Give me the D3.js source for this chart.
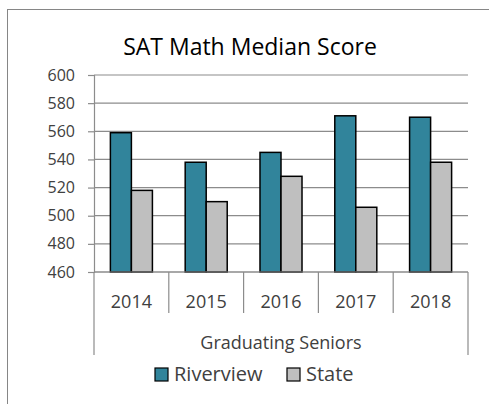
<!DOCTYPE html>
<html lang="en-US">
<head>
    <meta charset="utf-8">
    <title>SAT Math Median Score</title>
    <script src="https://d3js.org/d3.v7.min.js"></script>
    <style>
        html,
        body {
            margin: 0;
            padding: 0;
            background: #fff;
        }
        /* chart text */
        text {
            font-family: "Open Sans", "Noto Sans", sans-serif;
            fill: #404040;
        }
    </style>
</head>
<body>
    <div id="chart"></div>
    <script>
        // data
        var years = ["2014", "2015", "2016", "2017", "2018"];
        var seriesNames = ["Riverview", "State"];
        var riverview = [559, 538, 545, 571, 570];
        var state = [518, 510, 528, 506, 538];
        var yTicks = [460, 480, 500, 520, 540, 560, 580, 600];

        var colors = ["#31849b", "#bfbfbf"];
        var values = [riverview, state];

        var width = 489,
            height = 404;

        var svg = d3.select("#chart").append("svg")
            .attr("width", width)
            .attr("height", height);

        // outer chart frame (runs off the right and bottom edges)
        svg.append("rect")
            .attr("x", 7.5)
            .attr("y", 9.5)
            .attr("width", 520)
            .attr("height", 440)
            .attr("fill", "none")
            .attr("stroke", "#868686")
            .attr("stroke-width", 1);

        // plot area (don't use "top" as a global, it's window.top)
        var plot = { left: 94, right: 468, top: 75, bottom: 272 };

        var x = d3.scaleBand()
            .domain(years)
            .range([plot.left, plot.right])
            .paddingInner(0)
            .paddingOuter(0);

        var y = d3.scaleLinear()
            .domain([460, 600])
            .range([plot.bottom, plot.top]);

        // gridlines
        svg.append("g")
            .selectAll("line")
            .data(yTicks)
            .enter().append("line")
            .attr("x1", plot.left)
            .attr("x2", plot.right)
            .attr("y1", function(d) { return y(d); })
            .attr("y2", function(d) { return y(d); })
            .attr("stroke", "#8c8c8c")
            .attr("stroke-width", 1.2);

        // y axis
        var yAxis = svg.append("g")
            .attr("transform", "translate(" + plot.left + ",0)")
            .call(d3.axisLeft(y).tickValues(yTicks).tickSize(6).tickPadding(13));
        yAxis.select(".domain").attr("stroke", "#8c8c8c").attr("stroke-width", 1.2);
        yAxis.selectAll(".tick line").attr("stroke", "#8c8c8c").attr("stroke-width", 1.2);
        yAxis.selectAll("text")
            .attr("font-family", null)
            .style("font-size", "16px")
            .style("fill", "#404040");

        // bars
        var inner = d3.scaleBand()
            .domain(seriesNames)
            .range([0, x.bandwidth()])
            .paddingOuter(0.78)
            .paddingInner(0);

        var groups = svg.append("g")
            .selectAll("g")
            .data(years)
            .enter().append("g")
            .attr("transform", function(d) { return "translate(" + x(d) + ",0)"; });

        groups.selectAll("rect")
            .data(function(d, i) {
                return seriesNames.map(function(s, j) {
                    return { name: s, value: values[j][i], color: colors[j] };
                });
            })
            .enter().append("rect")
            .attr("x", function(d) { return inner(d.name); })
            .attr("y", function(d) { return y(d.value); })
            .attr("width", inner.bandwidth())
            .attr("height", function(d) { return y(460) - y(d.value); })
            .attr("fill", function(d) { return d.color; })
            .attr("stroke", "#000")
            .attr("stroke-width", 1.5);

        // x axis: category dividers and labels
        var boundaries = years.map(function(d) { return x(d); }).concat([plot.right]);
        svg.append("line")
            .attr("x1", plot.left).attr("x2", plot.right)
            .attr("y1", plot.bottom).attr("y2", plot.bottom)
            .attr("stroke", "#8c8c8c").attr("stroke-width", 1.2);
        svg.append("g")
            .selectAll("line")
            .data(boundaries)
            .enter().append("line")
            .attr("x1", function(d) { return d; })
            .attr("x2", function(d) { return d; })
            .attr("y1", plot.bottom)
            .attr("y2", function(d, i) { return (i == 0 || i == boundaries.length - 1) ? 355 : 313; })
            .attr("stroke", "#8c8c8c")
            .attr("stroke-width", 1.2);

        svg.append("g")
            .selectAll("text")
            .data(years)
            .enter().append("text")
            .attr("x", function(d) { return x(d) + x.bandwidth() / 2; })
            .attr("y", 308)
            .attr("text-anchor", "middle")
            .style("font-size", "18px")
            .text(function(d) { return d; });

        svg.append("text")
            .attr("x", (plot.left + plot.right) / 2)
            .attr("y", 349)
            .attr("text-anchor", "middle")
            .style("font-size", "18px")
            .text("Graduating Seniors");

        // title
        svg.append("text")
            .attr("x", 250)
            .attr("y", 55)
            .attr("text-anchor", "middle")
            .style("font-size", "23px")
            .style("fill", "#000")
            .text("SAT Math Median Score");

        // legend
        var legendX = [155, 287];
        var legend = svg.append("g")
            .selectAll("g")
            .data(seriesNames)
            .enter().append("g")
            .attr("transform", function(d, i) { return "translate(" + legendX[i] + ",368)"; });
        legend.append("rect")
            .attr("width", 13)
            .attr("height", 13)
            .attr("fill", function(d, i) { return colors[i]; })
            .attr("stroke", "#000")
            .attr("stroke-width", 1.2);
        legend.append("text")
            .attr("x", 19)
            .attr("y", 12.5)
            .style("font-size", "20px")
            .text(function(d) { return d; });
    </script>
</body>
</html>
